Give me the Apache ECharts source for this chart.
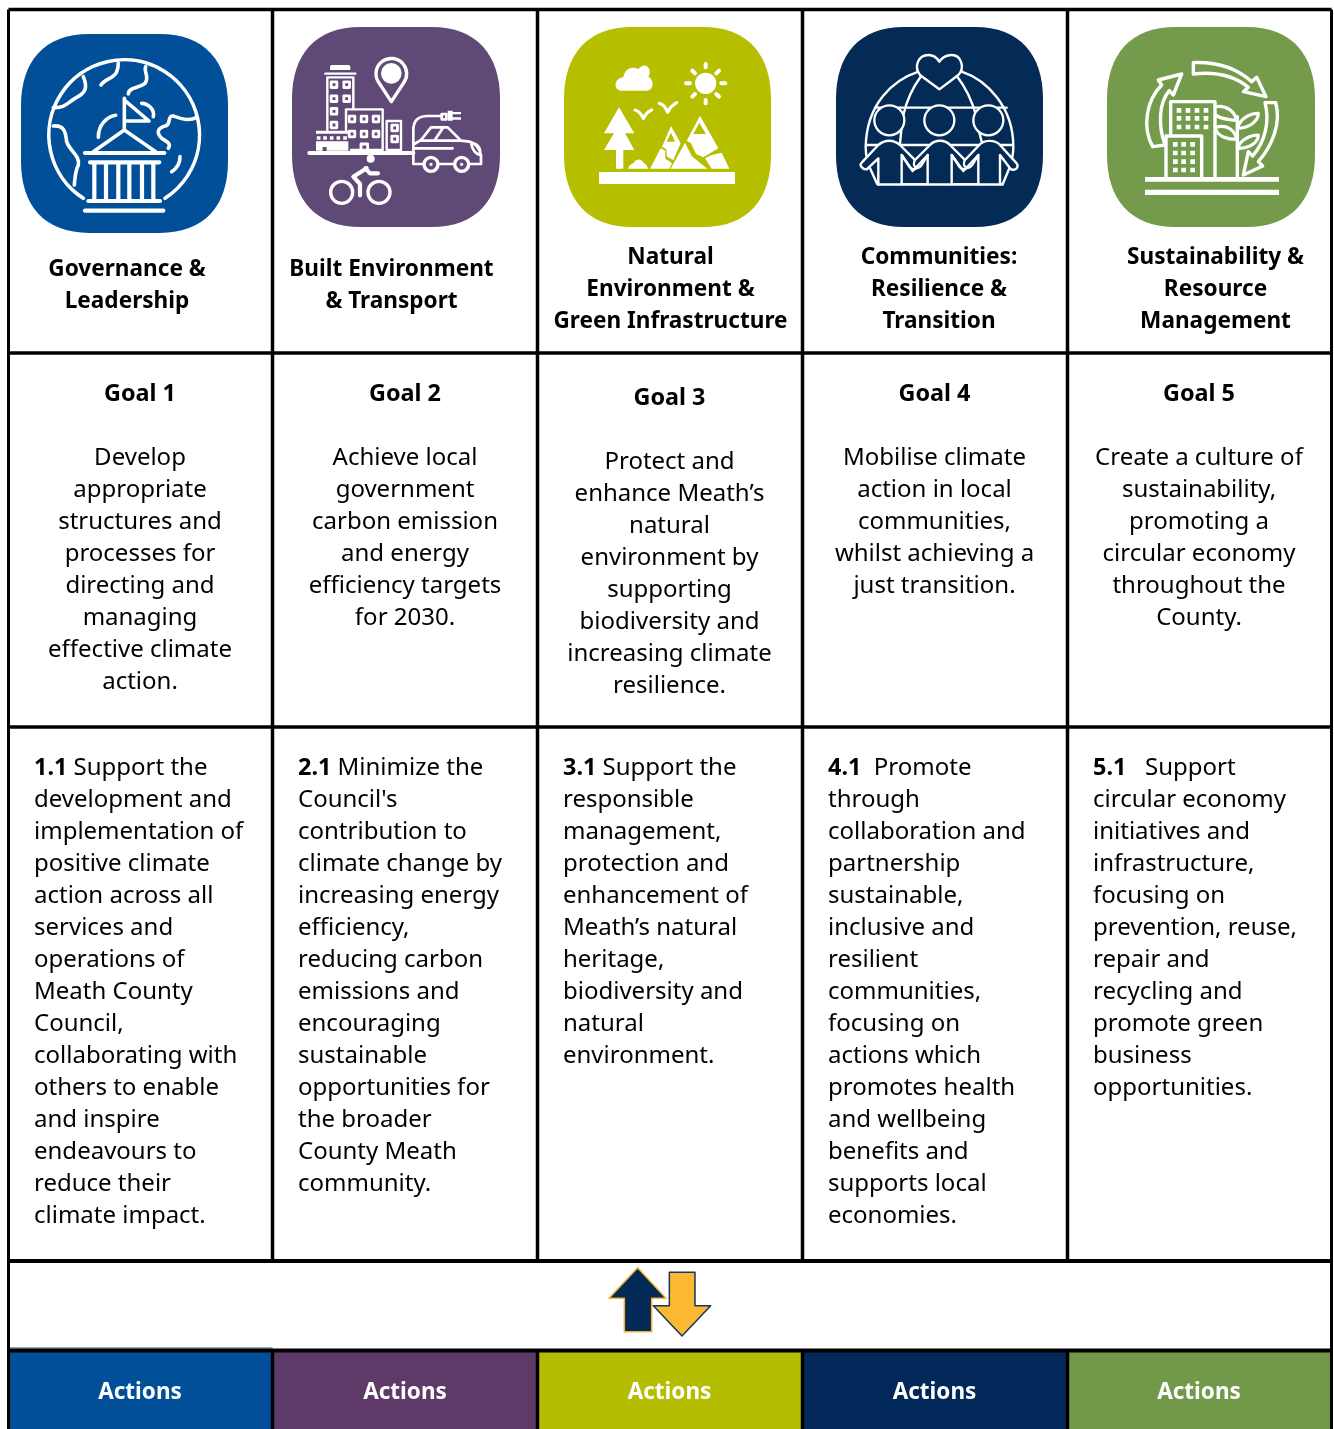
<!DOCTYPE html>
<html>
<head>
<meta charset="utf-8">
<title>Climate action goals</title>
<script src="https://cdn.jsdelivr.net/npm/echarts@6/dist/echarts.min.js"></script>
<style>
  html, body { margin: 0; padding: 0; background: #fff; }
  #chart { width: 1334px; height: 1429px; }
</style>
</head>
<body>
<div id="chart"></div>
<script>
// table content
const pillarTitles = [
  ["Governance &", "Leadership"],
  ["Built Environment", "& Transport"],
  ["Natural", "Environment &", "Green Infrastructure"],
  ["Communities:", "Resilience &", "Transition"],
  ["Sustainability &", "Resource", "Management"],
];
const goalTitles = ["Goal 1", "Goal 2", "Goal 3", "Goal 4", "Goal 5"];
const goalLines = [
  ["Develop", "appropriate", "structures and", "processes for", "directing and", "managing", "effective climate", "action."],
  ["Achieve local", "government", "carbon emission", "and energy", "efficiency targets", "for 2030."],
  ["Protect and", "enhance Meath\u2019s", "natural", "environment by", "supporting", "biodiversity and", "increasing climate", "resilience."],
  ["Mobilise climate", "action in local", "communities,", "whilst achieving a", "just transition."],
  ["Create a culture of", "sustainability,", "promoting a", "circular economy", "throughout the", "County."],
];
const objectiveNumbers = ["1.1", "2.1", "3.1", "4.1", "5.1"];
const objectiveLines = [
  [" Support the", "development and", "implementation of", "positive climate", "action across all", "services and", "operations of", "Meath County", "Council,", "collaborating with", "others to enable", "and inspire", "endeavours to", "reduce their", "climate impact."],
  [" Minimize the", "Council's", "contribution to", "climate change by", "increasing energy", "efficiency,", "reducing carbon", "emissions and", "encouraging", "sustainable", "opportunities for", "the broader", "County Meath", "community."],
  [" Support the", "responsible", "management,", "protection and", "enhancement of", "Meath\u2019s natural", "heritage,", "biodiversity and", "natural", "environment."],
  ["  Promote", "through", "collaboration and", "partnership", "sustainable,", "inclusive and", "resilient", "communities,", "focusing on", "actions which", "promotes health", "and wellbeing", "benefits and", "supports local", "economies."],
  ["   Support", "circular economy", "initiatives and", "infrastructure,", "focusing on", "prevention, reuse,", "repair and", "recycling and", "promote green", "business", "opportunities."],
];
const actionLabels = ["Actions", "Actions", "Actions", "Actions", "Actions"];

// colours
const tileColors = ["#014f99", "#5f4977", "#b5bf00", "#042a56", "#739b4b"];
const actionColors = ["#014f99", "#5e3a68", "#b5bd00", "#02285a", "#72994a"];

// layout, in page pixels
const colEdges = [8.5, 272.5, 537.5, 802.5, 1067.5, 1331.5];
const rowEdges = [9.5, 353, 727, 1261, 1350.5, 1429];
const LINE = 32;
const TEXT_NUDGE = 1;
const titleCenterX = [127, 391.5, 670.5, 939, 1215.5];
const titleTopY = [269, 269, 257, 257, 257];
const goalCenterX = [140, 405, 669.5, 934.5, 1199];
const goalTopY = [393, 393, 397, 393, 393];
const objectiveLeftX = [34, 298, 563, 828, 1093];
const objectiveTopY = 767;
const actionsY = 1393;
const tileRects = [[21, 34, 207, 199], [292, 27, 208, 200], [564, 27, 207, 200], [836, 27, 207, 200], [1107, 27, 208, 200]];
const iconCrops = [[25, 40, 200, 190], [296, 40, 200, 180], [590, 50, 160, 150], [850, 40, 180, 160], [1130, 50, 160, 150]];
const arrowCrop = [590, 1255, 140, 90];

const FONT = '"Noto Sans", sans-serif';
const TILE_PATH = "M33 0L67 0C89 0 100 14 100 36L100 64C100 86 89 100 67 100L33 100C11 100 0 86 0 64L0 36C0 14 11 0 33 0Z";

// icon artwork, drawn at 3x inside each crop. layers: [fill, stroke, lineWidth, path]
const W = "#fff", BG = "bg";
const squares = (pts, s) => pts.map(([x, y]) => `M${x - s / 2} ${y - s / 2}h${s}v${s}h${-s}Z`).join("");
const disc = (x, y, r) => `M${x - r} ${y}A${r} ${r} 0 1 1 ${x + r} ${y}A${r} ${r} 0 1 1 ${x - r} ${y}Z`;
const iconLayers = [
  [
    [null, W, 3.6, "M175 475A226 226 0 1 1 420 475M175 110C190 145 180 160 150 175C125 190 120 205 85 203M228 135C240 115 270 115 275 95C280 85 280 75 280 68M310 162C310 140 345 145 360 130C375 110 355 95 362 80M85 258C120 255 122 280 125 305C135 335 165 345 160 375C150 395 150 415 148 435M515 232C490 245 465 235 445 228C425 225 440 255 420 258C395 265 395 280 410 295C425 305 440 310 430 325M465 350C465 370 455 385 440 395M220 292C220 255 245 230 272 226M350 190C370 190 390 210 385 230"],
    [null, W, 3.6, "M298 175L298 268M300 182L372 243L300 243M205 335L298 270L392 335"],
    [null, W, 4.2, "M180 339L418 339M195 367L403 367M190 483L405 483M180 512L415 512M208 367L208 483M243 367L243 483M280 367L280 483M313 367L313 483M351 367L351 483M385 367L385 483"],
  ],
  [
    [null, W, 3.4, "M286 185L250 130A46 46 0 1 1 322 130Z"],
    [W, null, 1, disc(286, 100, 31) + "M102 80Q102 75 107 75L158 75Q163 75 163 80L163 90L102 90Z"],
    [null, W, 2.4, "M88 101L178 101M94 270L94 112L172 112L172 205M150 208L260 208L260 330L165 330M150 208L150 270M272 243L315 243L315 330L272 330Z"],
    [null, W, 2.8, squares([[114, 134], [152, 134], [114, 176], [152, 176], [114, 214], [114, 255], [168, 237], [204, 237], [240, 237], [168, 282], [204, 282], [240, 282], [296, 264], [296, 297]], 17) + "M195 330L195 312L215 312L215 330"],
    [W, null, 1, "M60 272L157 272L157 281L60 281ZM60 304L157 304L157 332L60 332Z" + squares([[68, 294], [87, 294], [107, 294], [127, 294], [147, 294]], 11)],
    [BG, null, 1, squares([[86, 327]], 12)],
    [null, W, 4, "M40 339L352 339"],
    [null, W, 2.7, "M352 339L352 270C352 240 370 228 395 228L438 228M352 339L352 372L380 372M428 372L472 372M522 372L555 372L555 345C550 325 540 310 520 305L495 302L455 262L405 262L375 300L355 312M375 302L495 302M415 302L440 265M352 325L470 325M525 308C545 312 555 325 552 345C535 340 528 325 525 308M437 222h14v16h-14Z"],
    [W, null, 1, "M455 212L470 212L470 242L455 242ZM470 216L495 216L495 223L470 223ZM470 232L495 232L495 239L470 239Z" + disc(224, 356, 12)],
    [null, W, 3.4, disc(405, 373, 21) + disc(497, 373, 21) + disc(137, 457, 33) + disc(249, 457, 33)],
    [W, null, 1, disc(405, 373, 5) + disc(497, 373, 5)],
    [null, W, 4.2, "M212 385L172 410L192 432L192 466M208 385L222 400L246 400"],
  ],
  [
    [W, null, 1, "M95 122C70 122 70 85 100 82C105 50 135 50 145 58C165 30 190 60 175 80C195 90 190 122 170 122Z" + disc(347, 100, 32) +
      "M87 172L133 250L105 250L133 300L100 300L100 356L78 356L78 300L42 300L72 250L42 250Z" +
      "M115 356C115 345 128 340 132 338C138 325 155 325 160 338C170 342 172 350 174 356Z" +
      "M27 366L435 366L435 402L27 402Z" +
      "M212 295L180 356L238 356L246 340L226 326L226 302ZM243 228L272 280L250 330L231 320L229 298L216 290Z" +
      "M330 197L385 295L340 322L318 312L303 280L290 272ZM395 308L418 356L365 356L345 325L365 315ZM285 278L305 318L352 356L242 356Z"],
    [BG, null, 1, "M243 248L255 275L230 275ZM328 218L348 252L310 252Z"],
    [null, W, 4, "M347 42L347 52M347 150L347 160M288 100L300 100M394 100L406 100M307 62L315 70M387 62L379 70M307 140L315 132M387 140L379 132"],
    [null, W, 3.2, "M135 180C148 182 155 195 160 205C165 195 172 185 185 180M208 160C220 162 228 175 233 187C238 175 248 165 260 158"],
  ],
  [
    [null, W, 2.4, "M205 95C130 120 50 190 47 320C47 350 55 380 60 385L82 433L458 433L478 385C485 365 490 345 490 320C490 200 410 120 335 95M75 203L470 203M50 315L490 315M212 110C190 140 170 180 160 225M322 110C345 140 365 180 378 225M155 260L150 310M385 265L395 305"],
    [BG, W, 2.4, "M268 148L210 105C190 80 205 45 235 45C250 45 262 55 268 65C275 55 285 45 305 45C335 45 345 85 325 105Z"],
    [BG, W, 2.4, disc(118, 241, 45) + disc(268, 241, 45) + disc(415, 241, 45)],
    [BG, W, 2.4, "M85 433L85 355L50 388C40 390 25 375 35 368L85 315C105 298 130 298 150 315L205 370C210 385 190 395 178 380L155 345L155 433"],
    [BG, W, 2.4, "M233 433L233 345L215 375C200 395 185 375 195 360L240 315C255 298 285 298 300 315L355 370C360 385 340 395 328 380L305 345L305 433"],
    [BG, W, 2.4, "M385 433L385 345L367 375C350 395 335 375 345 360L385 318C400 298 435 298 450 315L500 370C510 385 490 395 480 385L450 345L450 433"],
    [null, W, 2.4, "M155 345L188 393L233 345M305 345L340 393L385 345M85 433L458 433"],
  ],
  [
    [null, W, 3.4, "M190 38C260 35 320 55 365 95L380 82L408 140L340 125L355 112C310 75 250 65 190 72Z" +
      "M68 290C35 230 50 150 95 105L85 90L155 72L130 135L118 122C85 160 85 230 105 285Z" +
      "M405 158L437 158C455 220 425 290 385 335L398 348L340 375L355 305L368 318C405 275 420 215 405 158Z"],
    [null, W, 3.4, "M122 252L122 155L255 155L255 380M108 380L108 258L215 258L215 380M322 380L322 200"],
    [null, W, 3.2, "M258 170C290 165 315 185 320 212C290 208 265 205 258 195M258 232C290 222 315 240 320 268C290 268 265 258 258 240M322 235C330 205 360 190 385 190C385 215 355 235 322 235M322 295C330 270 360 255 385 255C385 280 355 295 322 295"],
    [W, null, 1, squares([[147, 181], [174, 181], [201, 181], [228, 181], [147, 205], [174, 205], [201, 205], [228, 205], [147, 231], [174, 231], [201, 231], [228, 231], [136, 283], [161, 283], [188, 283], [136, 309], [161, 309], [188, 309], [136, 335], [161, 335], [188, 335], [136, 360], [161, 360], [188, 360]], 14) +
      "M45 381L447 381L447 395L45 395ZM45 419L447 419L447 435L45 435Z"],
  ],
];
const arrowLayers = [
  ["#032a57", "#f6b233", 1.5, "M143 38L228 130L185 130L185 230L103 230L103 130L57 130Z"],
  ["#fcb832", "#17375e", 1.5, "M238 52L315 52L315 152L362 152L276 243L190 152L238 152Z"],
];

const pillarIndex = pillarTitles.map((_, i) => [i]);

function textEl(api, x, y, text, font, align) {
  const p = api.coord([x, y + TEXT_NUDGE]);
  return {
    type: "text",
    style: { x: p[0], y: p[1], text: text, fill: "#000", align: align, verticalAlign: "middle", font: font },
  };
}

function coverPath(api, crop, d, fill, stroke, lineWidth) {
  const a = api.coord([crop[0], crop[1]]);
  const b = api.coord([crop[0] + crop[2], crop[1] + crop[3]]);
  return {
    type: "path",
    // the two leading moves pin the path's box to the crop, so "cover" maps it 1:3
    shape: {
      pathData: `M0 0M${crop[2] * 3} ${crop[3] * 3}${d}`,
      x: a[0], y: a[1], width: b[0] - a[0], height: b[1] - a[1], layout: "cover",
    },
    style: { fill: fill || "none", stroke: stroke || "none", lineWidth: lineWidth, lineCap: "round", lineJoin: "round" },
  };
}

function renderColumn(params, api) {
  const i = api.value(0);
  const children = [];
  const x0 = colEdges[i];
  const x1 = colEdges[i + 1];
  const titleFont = `bold 22.6px ${FONT}`;
  const goalFont = `bold 23.4px ${FONT}`;
  const bodyFont = `normal 24px ${FONT}`;

  // actions band
  const a = api.coord([x0, rowEdges[4]]);
  const b = api.coord([x1, rowEdges[5]]);
  children.push({ type: "rect", shape: { x: a[0], y: a[1], width: b[0] - a[0], height: b[1] - a[1] }, style: { fill: actionColors[i] } });

  // tile and icon
  const r = tileRects[i];
  const ta = api.coord([r[0], r[1]]);
  const tb = api.coord([r[0] + r[2], r[1] + r[3]]);
  children.push({
    type: "path",
    shape: { pathData: TILE_PATH, x: ta[0], y: ta[1], width: tb[0] - ta[0], height: tb[1] - ta[1], layout: "cover" },
    style: { fill: tileColors[i] },
  });
  iconLayers[i].forEach((l) => {
    const fill = l[0] === BG ? tileColors[i] : l[0];
    children.push(coverPath(api, iconCrops[i], l[3], fill, l[1], l[2]));
  });

  // texts
  pillarTitles[i].forEach((t, n) => children.push(textEl(api, titleCenterX[i], titleTopY[i] + n * LINE, t, titleFont, "center")));
  children.push(textEl(api, goalCenterX[i], goalTopY[i], goalTitles[i], goalFont, "center"));
  goalLines[i].forEach((t, n) => children.push(textEl(api, goalCenterX[i], goalTopY[i] + (n + 2) * LINE, t, bodyFont, "center")));
  objectiveLines[i].forEach((t, n) => {
    const el = textEl(api, objectiveLeftX[i], objectiveTopY + n * LINE, t, bodyFont, "left");
    if (n === 0) {
      el.style.text = `{b|${objectiveNumbers[i]}}{r|${t}}`;
      el.style.rich = {
        b: { font: goalFont, fill: "#000" },
        r: { font: bodyFont, fill: "#000" },
      };
    }
    children.push(el);
  });
  const p = api.coord([goalCenterX[i], actionsY]);
  children.push({
    type: "text",
    style: { x: p[0], y: p[1], text: actionLabels[i], fill: "#fff", align: "center", verticalAlign: "middle", font: `bold 22.5px ${FONT}` },
  });

  return { type: "group", children: children };
}

function renderFrame(params, api) {
  const children = [];
  const line = (x0, y0, x1, y1, width, color) => {
    const a = api.coord([x0, y0]);
    const b = api.coord([x1, y1]);
    children.push({
      type: "line",
      shape: { x1: a[0], y1: a[1], x2: b[0], y2: b[1] },
      style: { stroke: color || "#000", lineWidth: width },
    });
  };
  const right = colEdges[colEdges.length - 1];
  line(colEdges[0], 1348, colEdges[1], 1348, 2, "#8fa8c9");
  // rows
  line(colEdges[0], rowEdges[0], right, rowEdges[0], 3.5);
  line(colEdges[0], rowEdges[1], right, rowEdges[1], 3.5);
  line(colEdges[0], rowEdges[2], right, rowEdges[2], 3.5);
  line(colEdges[0], rowEdges[3], right, rowEdges[3], 4);
  line(colEdges[0], rowEdges[4], right, rowEdges[4], 4);
  // columns, broken by the arrow band
  colEdges.forEach((x, i) => {
    if (i === 0 || i === colEdges.length - 1) {
      line(x, rowEdges[0], x, rowEdges[5], 3);
    } else {
      line(x, rowEdges[0], x, rowEdges[3], 3.5);
      line(x, rowEdges[4], x, rowEdges[5], 3.5);
    }
  });
  // arrows
  arrowLayers.forEach((l) => children.push(coverPath(api, arrowCrop, l[3], l[0], l[1], l[2])));
  return { type: "group", children: children };
}

const chart = echarts.init(document.getElementById("chart"), null, { renderer: "canvas" });
chart.setOption({
  animation: false,
  backgroundColor: "#fff",
  grid: { left: 0, right: 0, top: 0, bottom: 0 },
  xAxis: { type: "value", min: 0, max: 1334, show: false },
  yAxis: { type: "value", min: 0, max: 1429, inverse: true, show: false },
  series: [
    { type: "custom", name: "columns", coordinateSystem: "cartesian2d", data: pillarIndex, renderItem: renderColumn, silent: true, encode: { x: 0 } },
    { type: "custom", name: "frame", coordinateSystem: "cartesian2d", data: [[0]], renderItem: renderFrame, silent: true, encode: { x: 0 }, z: 3 },
  ],
});
</script>
</body>
</html>
